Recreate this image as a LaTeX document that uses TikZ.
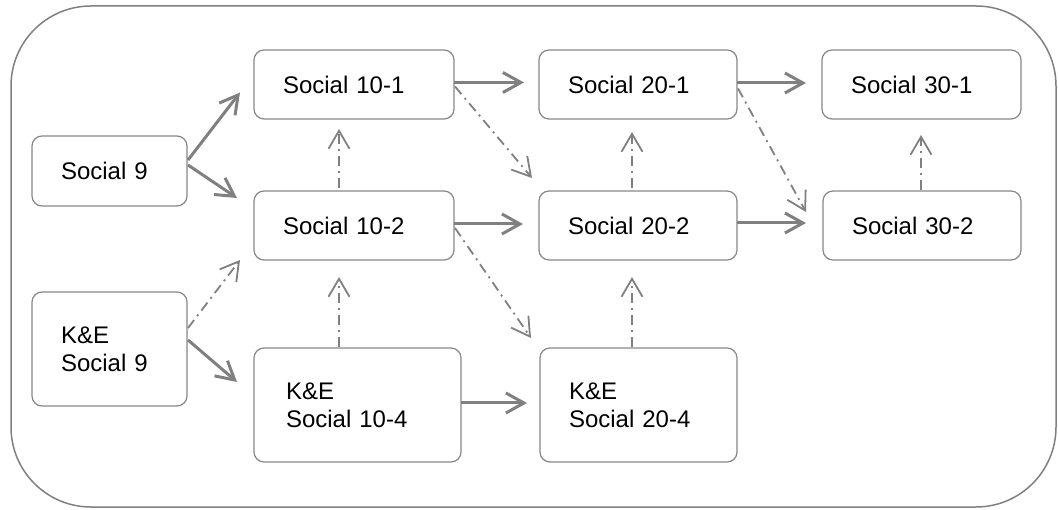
\documentclass[tikz,border=0pt]{standalone}
\usepackage{fontspec}
\setmainfont{Liberation Sans}
\usetikzlibrary{arrows.meta,calc}
\definecolor{linegray}{RGB}{128,128,128}
\definecolor{boxgray}{RGB}{135,135,135}
\begin{document}
\begin{tikzpicture}[x=1pt,y=-1pt,
  box/.style={draw=boxgray, line width=1.2pt, rounded corners=10pt, align=left,
    inner xsep=29pt, inner ysep=0pt, outer sep=0pt,
    font=\fontsize{24}{28}\selectfont},
  solidarrow/.style={draw=linegray, line width=3pt, -{Straight Barb[length=18pt,width=20pt]}},
  dasharrow/.style={draw=linegray, line width=1.8pt, dash pattern=on 10pt off 5pt on 2pt off 5pt,
    -{Straight Barb[length=18pt,width=21pt]}}]
\useasboundingbox (0,0) rectangle (1058,510);
\draw[draw=linegray, line width=1.5pt, rounded corners=80pt] (11,6) rectangle (1056,507);

\node[box, text width=97pt, minimum height=70pt] (s9) at (109.5,171) {Social 9};
\node[box, text width=97pt, minimum height=114pt] (ke9) at (109.5,349) {K\&E\\Social 9};
\node[box, text width=142pt, minimum height=69pt] (s101) at (354,84.5) {Social 10-1};
\node[box, text width=142pt, minimum height=69pt] (s102) at (354,225.5) {Social 10-2};
\node[box, text width=143pt, inner xsep=32pt, minimum height=114pt] (ke104) at (357.5,405) {K\&E\\Social 10-4};
\node[box, text width=140pt, minimum height=69pt] (s201) at (638,84.5) {Social 20-1};
\node[box, text width=140pt, minimum height=69pt] (s202) at (638,225.5) {Social 20-2};
\node[box, text width=139pt, minimum height=114pt] (ke204) at (638.5,405) {K\&E\\Social 20-4};
\node[box, text width=141pt, minimum height=69pt] (s301) at (921.5,84.5) {Social 30-1};
\node[box, text width=140pt, minimum height=69pt] (s302) at (922,225.5) {Social 30-2};

% from Social 9 and K&E Social 9
\draw[solidarrow] ($(s9.east)+(1,-11)$) -- ($(s101.west)+(-14,8)$);
\draw[solidarrow] ($(s9.east)+(1,-6)$) -- ($(s102.north west)+(-17,7)$);
\draw[dasharrow] ($(ke9.east)+(1,-21)$) -- ($(s102.south west)+(-14,0)$);
\draw[solidarrow] ($(ke9.east)+(1,-9)$) -- ($(ke104.west)+(-17,-23)$);

% verticals column 10
\draw[dasharrow] ($(s102.north)+(-15,-3)$) -- ($(s101.south)+(-15,10)$);
\draw[dasharrow] ($(ke104.north)+(-18.5,-1)$) -- ($(s102.south)+(-15,17)$);

% column 10 -> 20
\draw[solidarrow] ($(s101.east)+(0,-2)$) -- ($(s201.west)+(-15,-2)$);
\draw[dasharrow] ($(s101.east)+(1,2)$) -- ($(s202.north west)+(-7,-13)$);
\draw[solidarrow] ($(s102.east)+(0,-1.5)$) -- ($(s202.west)+(-16,-1.5)$);
\draw[dasharrow] ($(s102.east)+(1,2.5)$) -- ($(ke204.north west)+(-9,-10)$);
\draw[solidarrow] ($(ke104.east)+(0,-2)$) -- ($(ke204.west)+(-13,-2)$);

% verticals column 20
\draw[dasharrow] ($(s202.north)+(-6,-3)$) -- ($(s201.south)+(-6,13)$);
\draw[dasharrow] ($(ke204.north)+(-6.5,-1)$) -- ($(s202.south)+(-6,17)$);

% column 20 -> 30
\draw[solidarrow] ($(s201.east)+(0,-1.5)$) -- ($(s301.west)+(-16,-1.5)$);
\draw[dasharrow] ($(s201.east)+(1,4)$) -- ($(s302.west)+(-17,-13.5)$);
\draw[solidarrow] ($(s202.east)+(0,-2.5)$) -- ($(s302.west)+(-17,-2.5)$);

% vertical column 30
\draw[dasharrow] ($(s302.north)+(-1,-1)$) -- ($(s301.south)+(-0.5,16)$);
\end{tikzpicture}
\end{document}
